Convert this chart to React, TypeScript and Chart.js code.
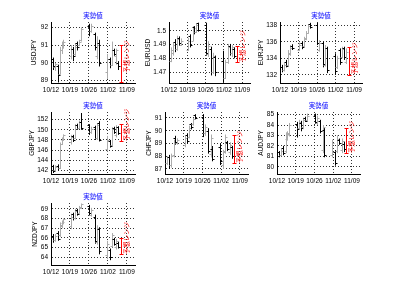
import React, { useEffect, useRef } from "react";
import { Chart, registerables } from "chart.js";
Chart.register(...registerables);

// ---- shared axis data ----
const tickDays = [0, 7, 14, 21, 28];
const tickLabels = ["10/12", "10/19", "10/26", "11/02", "11/09"];
const barDays = [0.8, 1.6, 2.4, 3.2, 3.9, 4.5, 7.3, 8.2, 9.0, 9.7, 10.5, 11.2, 14.1, 14.9, 16.1, 17.0, 17.7, 20.7, 21.6, 22.5, 23.3, 24.1, 24.9];
const rangeDay = 25.9;
const titleText = "実勢値";
const rangeText = "予想レンジ";

// ---- USDJPY ----
const usdjpyOpen = [90.2, 89.75, 89.85, 89.4, 90.7, 91.0, 90.4, 90.8, 90.5, 91.1, 91.0, 91.3, 92.1, 91.8, 91.6, 90.4, 91.1, 89.5, 90.2, 89.9, 90.7, 90.4, 90.0];
const usdjpyHigh = [90.3, 90.0, 89.9, 90.9, 91.2, 91.3, 91.0, 90.9, 91.1, 91.2, 91.3, 92.0, 92.2, 92.2, 91.7, 91.5, 91.3, 90.5, 90.3, 91.2, 90.8, 90.8, 90.1];
const usdjpyLow = [89.6, 89.55, 88.9, 89.35, 90.5, 90.8, 90.2, 90.1, 90.4, 90.7, 90.95, 91.2, 91.5, 91.7, 90.7, 90.2, 89.8, 89.1, 89.7, 89.85, 90.4, 89.9, 89.6];
const usdjpyClose = [89.8, 89.95, 89.3, 90.7, 91.0, 91.2, 90.8, 90.4, 90.9, 90.9, 91.2, 91.9, 91.8, 92.1, 90.9, 91.0, 90.0, 90.2, 89.9, 90.7, 90.5, 90.7, 89.8];
const usdjpyRange = [88.95, 91.0];
const usdjpyTicks = [89, 90, 91, 92];

// ---- EURUSD ----
const eurusdOpen = [1.478, 1.484, 1.492, 1.487, 1.495, 1.490, 1.486, 1.496, 1.493, 1.503, 1.499, 1.5055, 1.5045, 1.483, 1.487, 1.470, 1.481, 1.478, 1.466, 1.477, 1.489, 1.484, 1.487];
const eurusdHigh = [1.488, 1.4915, 1.494, 1.4965, 1.496, 1.4945, 1.495, 1.4975, 1.5035, 1.5035, 1.505, 1.506, 1.506, 1.4925, 1.4885, 1.484, 1.482, 1.4855, 1.479, 1.4905, 1.4905, 1.4895, 1.488];
const eurusdLow = [1.4772, 1.482, 1.4845, 1.4855, 1.489, 1.489, 1.4855, 1.488, 1.4925, 1.4975, 1.4985, 1.4995, 1.482, 1.481, 1.4675, 1.4685, 1.467, 1.4625, 1.465, 1.476, 1.482, 1.481, 1.480];
const eurusdClose = [1.486, 1.490, 1.487, 1.494, 1.491, 1.493, 1.493, 1.490, 1.502, 1.499, 1.504, 1.501, 1.484, 1.489, 1.470, 1.482, 1.470, 1.466, 1.477, 1.488, 1.484, 1.488, 1.482];
const eurusdRange = [1.477, 1.489];
const eurusdTicks = [1.47, 1.48, 1.49, 1.5];

// ---- EURJPY ----
const eurjpyOpen = [133.0, 132.6, 133.5, 133.2, 134.5, 135.5, 135.0, 135.8, 135.5, 136.3, 137.1, 138.1, 138.0, 135.0, 135.8, 133.2, 135.2, 134.3, 132.9, 135.0, 134.2, 135.2, 133.6];
const eurjpyHigh = [133.2, 133.4, 133.8, 135.0, 135.6, 135.7, 135.9, 136.0, 136.6, 137.3, 138.1, 138.3, 138.3, 136.2, 136.0, 135.6, 135.4, 134.6, 134.3, 135.2, 135.4, 135.4, 135.2];
const eurjpyLow = [132.3, 132.4, 132.9, 133.0, 134.3, 135.0, 134.9, 135.1, 135.3, 136.2, 137.0, 137.6, 135.6, 134.8, 132.9, 133.0, 132.2, 132.0, 132.7, 133.2, 134.0, 133.8, 133.3];
const eurjpyClose = [132.6, 133.2, 133.1, 134.6, 135.2, 135.3, 135.6, 135.4, 136.4, 137.1, 137.9, 137.8, 135.9, 135.9, 133.3, 135.3, 132.6, 132.4, 134.0, 133.6, 135.1, 134.1, 134.8];
const eurjpyRange = [132.0, 135.4];
const eurjpyTicks = [132, 134, 136, 138];

// ---- GBPJPY ----
const gbpjpyOpen = [142.9, 142.0, 142.9, 142.5, 147.2, 148.0, 147.5, 148.8, 148.4, 151.0, 150.4, 151.5, 150.9, 149.5, 150.5, 148.3, 151.3, 146.2, 147.8, 147.0, 150.4, 149.0, 150.5];
const gbpjpyHigh = [143.1, 143.0, 143.2, 147.5, 148.5, 149.1, 149.0, 149.0, 151.1, 151.2, 151.8, 153.3, 151.1, 150.6, 150.8, 151.3, 151.7, 148.8, 148.0, 150.5, 150.6, 150.9, 150.7];
const gbpjpyLow = [141.5, 141.8, 142.0, 142.3, 147.0, 147.8, 147.1, 147.6, 148.2, 150.0, 150.2, 150.0, 149.0, 149.2, 148.0, 148.0, 147.7, 145.7, 146.5, 146.8, 149.2, 148.5, 149.0];
const gbpjpyClose = [141.9, 142.7, 142.4, 147.2, 148.2, 148.9, 148.6, 148.0, 150.9, 150.3, 151.5, 150.4, 149.5, 150.2, 148.4, 151.0, 148.0, 148.0, 146.9, 150.2, 149.5, 150.5, 149.4];
const gbpjpyRange = [147.8, 151.1];
const gbpjpyTicks = [142, 144, 146, 148, 150, 152];

// ---- CHFJPY ----
const chfjpyOpen = [87.5, 87.9, 87.3, 88.1, 89.4, 89.0, 88.9, 89.7, 89.5, 90.5, 90.5, 91.2, 91.1, 89.8, 90.0, 88.2, 88.6, 88.7, 87.3, 88.4, 89.1, 88.3, 88.7];
const chfjpyHigh = [88.0, 88.1, 88.2, 89.3, 89.6, 89.4, 89.6, 89.8, 90.4, 90.6, 91.0, 91.3, 91.3, 90.5, 90.2, 89.7, 88.8, 89.0, 88.5, 89.7, 89.2, 89.1, 88.8];
const chfjpyLow = [87.3, 87.0, 87.1, 87.9, 88.9, 88.9, 88.7, 89.0, 89.4, 90.1, 90.4, 90.9, 89.5, 89.6, 88.2, 87.9, 87.6, 87.3, 87.0, 88.2, 88.4, 88.1, 87.8];
const chfjpyClose = [87.9, 87.3, 88.0, 89.0, 89.1, 89.3, 89.4, 89.2, 90.2, 90.3, 90.9, 91.0, 89.8, 90.3, 88.4, 89.4, 87.8, 87.6, 88.3, 89.5, 88.6, 88.9, 88.0];
const chfjpyRange = [87.45, 89.65];
const chfjpyTicks = [87, 88, 89, 90, 91];

// ---- AUDJPY ----
const audjpyOpen = [81.4, 81.1, 81.8, 81.5, 82.7, 83.1, 84.1, 83.7, 84.2, 83.8, 84.7, 84.5, 84.9, 84.2, 84.4, 81.6, 83.5, 81.1, 81.4, 81.5, 82.6, 81.6, 82.2];
const audjpyHigh = [81.5, 81.7, 82.0, 83.3, 83.4, 84.2, 84.3, 84.5, 84.4, 84.7, 84.8, 85.1, 85.1, 84.9, 84.5, 84.0, 83.7, 82.6, 81.6, 83.0, 82.7, 82.7, 82.4];
const audjpyLow = [80.9, 81.0, 81.1, 81.3, 82.5, 82.9, 82.8, 83.6, 83.4, 83.6, 84.3, 84.4, 84.1, 84.0, 83.2, 81.3, 80.9, 80.9, 80.1, 81.3, 82.1, 81.3, 81.4];
const audjpyClose = [81.1, 81.5, 81.3, 83.0, 83.2, 84.0, 83.6, 84.3, 83.7, 84.5, 84.4, 84.9, 84.3, 84.7, 83.4, 83.8, 81.1, 82.3, 80.4, 82.7, 82.3, 82.5, 81.7];
const audjpyRange = [81.3, 83.7];
const audjpyTicks = [80, 81, 82, 83, 84, 85];

// ---- NZDJPY ----
const nzdjpyOpen = [66.2, 65.8, 66.5, 66.3, 67.2, 67.5, 67.2, 68.5, 68.1, 68.9, 68.6, 69.1, 69.3, 68.4, 68.2, 65.6, 66.9, 64.2, 64.7, 65.2, 65.9, 65.1, 65.5];
const nzdjpyHigh = [66.4, 66.4, 66.7, 67.6, 67.8, 68.0, 68.5, 68.6, 69.0, 69.0, 69.3, 69.55, 69.4, 69.1, 68.4, 67.3, 67.1, 65.7, 64.9, 66.5, 66.0, 65.9, 65.6];
const nzdjpyLow = [65.5, 65.6, 65.7, 66.1, 67.0, 67.4, 66.9, 67.8, 67.9, 68.3, 68.5, 69.0, 68.3, 68.2, 65.4, 65.3, 64.3, 63.8, 63.7, 65.0, 65.2, 64.8, 64.9];
const nzdjpyClose = [65.8, 66.2, 65.9, 67.3, 67.6, 67.9, 68.2, 68.0, 68.8, 68.5, 69.2, 69.5, 68.6, 68.9, 65.7, 67.0, 64.6, 65.4, 64.0, 66.3, 65.4, 65.7, 65.1];
const nzdjpyRange = [64.3, 66.0];
const nzdjpyTicks = [64, 65, 66, 67, 68, 69];

type PanelSpec = {
  name: string;
  open: number[]; high: number[]; low: number[]; close: number[];
  range: number[]; ticks: number[];
  yMin: number; yMax: number;
  labelFrom?: number;
  box: { l: number; r: number; t: number; b: number };
  titleGap: number;
};

const panels: PanelSpec[] = [
  { name: "USDJPY", open: usdjpyOpen, high: usdjpyHigh, low: usdjpyLow, close: usdjpyClose, range: usdjpyRange, ticks: usdjpyTicks, yMin: 88.87, yMax: 92.3, labelFrom: 89.45, box: { l: 51, r: 135, t: 22, b: 83 }, titleGap: 16.5 },
  { name: "EURUSD", open: eurusdOpen, high: eurusdHigh, low: eurusdLow, close: eurusdClose, range: eurusdRange, ticks: eurusdTicks, yMin: 1.462, yMax: 1.5065, box: { l: 169, r: 250, t: 22, b: 83 }, titleGap: 21 },
  { name: "EURJPY", open: eurjpyOpen, high: eurjpyHigh, low: eurjpyLow, close: eurjpyClose, range: eurjpyRange, ticks: eurjpyTicks, yMin: 131.0, yMax: 138.4, box: { l: 280, r: 362, t: 22, b: 83 }, titleGap: 19 },
  { name: "GBPJPY", open: gbpjpyOpen, high: gbpjpyHigh, low: gbpjpyLow, close: gbpjpyClose, range: gbpjpyRange, ticks: gbpjpyTicks, yMin: 141.3, yMax: 153.5, box: { l: 51, r: 135, t: 112, b: 174 }, titleGap: 19 },
  { name: "CHFJPY", open: chfjpyOpen, high: chfjpyHigh, low: chfjpyLow, close: chfjpyClose, range: chfjpyRange, ticks: chfjpyTicks, yMin: 86.6, yMax: 91.47, box: { l: 165, r: 248, t: 112, b: 174 }, titleGap: 16 },
  { name: "AUDJPY", open: audjpyOpen, high: audjpyHigh, low: audjpyLow, close: audjpyClose, range: audjpyRange, ticks: audjpyTicks, yMin: 79.3, yMax: 85.25, box: { l: 277, r: 360, t: 112, b: 174 }, titleGap: 16 },
  { name: "NZDJPY", open: nzdjpyOpen, high: nzdjpyHigh, low: nzdjpyLow, close: nzdjpyClose, range: nzdjpyRange, ticks: nzdjpyTicks, yMin: 63.2, yMax: 69.6, box: { l: 51, r: 135, t: 203, b: 265 }, titleGap: 16 },
];

const LATIN = "'Liberation Sans', Arial, sans-serif";
const CJK = "'Noto Sans CJK JP', 'Noto Sans CJK SC', sans-serif";
const FS = 6.5;
const Y_W = 40, PAD_T = 18, X_H = 12, PAD_B = 2, PAD_R = 10;
const UP = "#acacac", DOWN = "#000000", RED = "#ff0000", BLUE = "#0000ff";

function makePlugin(p: PanelSpec) {
  return {
    id: "ohlc_" + p.name,
    afterDatasetsDraw(chart: any) {
      const { ctx, chartArea } = chart;
      const x = chart.scales.x, y = chart.scales.y;
      ctx.save();
      ctx.lineWidth = 1;
      for (let i = 0; i < barDays.length; i++) {
        const px = Math.round(x.getPixelForValue(barDays[i])) + 0.5;
        const yh = y.getPixelForValue(p.high[i]);
        const yl = y.getPixelForValue(p.low[i]);
        const yo = Math.round(y.getPixelForValue(p.open[i])) + 0.5;
        const yc = Math.round(y.getPixelForValue(p.close[i])) + 0.5;
        ctx.strokeStyle = p.close[i] >= p.open[i] ? UP : DOWN;
        ctx.beginPath();
        ctx.moveTo(px, yh); ctx.lineTo(px, yl);
        ctx.moveTo(px - 2, yo); ctx.lineTo(px, yo);
        ctx.moveTo(px, yc); ctx.lineTo(px + 2, yc);
        ctx.stroke();
      }
      // forecast range
      const rx = Math.round(x.getPixelForValue(rangeDay)) + 0.5;
      const ry1 = Math.round(y.getPixelForValue(p.range[0])) + 0.5;
      const ry2 = Math.round(y.getPixelForValue(p.range[1])) + 0.5;
      ctx.strokeStyle = RED;
      ctx.beginPath();
      ctx.moveTo(rx, ry1); ctx.lineTo(rx, ry2);
      ctx.moveTo(rx - 2, ry1); ctx.lineTo(rx + 2, ry1);
      ctx.moveTo(rx - 2, ry2); ctx.lineTo(rx + 2, ry2);
      ctx.stroke();
      // forecast label
      const ly = y.getPixelForValue(p.labelFrom ?? p.range[0]);
      ctx.save();
      ctx.translate(rx + 5.5, ly);
      ctx.rotate(-Math.PI / 2);
      ctx.fillStyle = RED;
      ctx.font = `6.5px ${CJK}`;
      ctx.textAlign = "left";
      ctx.textBaseline = "middle";
      ctx.fillText(rangeText, 0, 0);
      ctx.restore();
      // title
      ctx.fillStyle = BLUE;
      ctx.font = `6.5px ${CJK}`;
      ctx.textAlign = "center";
      ctx.textBaseline = "middle";
      ctx.fillText(titleText, (chartArea.left + chartArea.right) / 2, chartArea.top - 6);
      ctx.restore();
    },
  };
}

function Panel({ p }: { p: PanelSpec }) {
  const ref = useRef<HTMLCanvasElement>(null);
  const left = p.box.l - Y_W;
  const top = p.box.t - PAD_T;
  const w = p.box.r - left + PAD_R;
  const h = p.box.b - top + X_H + PAD_B;
  useEffect(() => {
    const canvas = ref.current;
    if (!canvas) return;
    const grid = { color: "#333", lineWidth: 1, drawTicks: false };
    const border = { display: true, color: "#000", width: 1, dash: [1, 2] };
    const chart = new Chart(canvas, {
      type: "scatter",
      data: {
        datasets: [
          {
            data: p.close.map((c, i) => ({ x: barDays[i], y: c })),
            pointRadius: 0,
            showLine: false,
          },
        ],
      },
      options: {
        responsive: false,
        animation: false,
        events: [],
        layout: { padding: { left: 0, top: PAD_T, right: PAD_R, bottom: PAD_B } },
        plugins: { legend: { display: false }, tooltip: { enabled: false }, title: { display: false } },
        scales: {
          x: {
            type: "linear",
            min: 0,
            max: 31,
            afterBuildTicks: (axis: any) => {
              axis.ticks = tickDays.map((v) => ({ value: v }));
            },
            afterFit: (axis: any) => {
              axis.height = X_H;
            },
            ticks: {
              autoSkip: false,
              maxRotation: 0,
              minRotation: 0,
              padding: 3,
              color: "#000",
              font: { size: FS, family: LATIN },
              callback: (_v: any, i: number) => tickLabels[i],
            },
            grid,
            border,
          },
          y: {
            type: "linear",
            min: p.yMin,
            max: p.yMax,
            afterBuildTicks: (axis: any) => {
              axis.ticks = p.ticks.map((v) => ({ value: v }));
            },
            afterFit: (axis: any) => {
              axis.width = Y_W;
            },
            ticks: {
              padding: 3,
              color: "#000",
              font: { size: FS, family: LATIN },
              callback: (v: any) => String(v),
            },
            title: {
              display: true,
              text: p.name,
              color: "#000",
              font: { size: FS, family: LATIN },
              padding: { top: Y_W - p.titleGap - FS * 0.6, bottom: 0 },
            },
            grid,
            border,
          },
        },
      },
      plugins: [makePlugin(p)],
    } as any);
    return () => chart.destroy();
  }, [p]);
  return (
    <canvas
      ref={ref}
      width={w}
      height={h}
      style={{ position: "absolute", left, top, width: w, height: h }}
    />
  );
}

export default function App() {
  return (
    <div style={{ position: "absolute", left: 0, top: 0, width: 400, height: 301, background: "#fff", overflow: "hidden" }}>
      {panels.map((p) => (
        <Panel key={p.name} p={p} />
      ))}
    </div>
  );
}
